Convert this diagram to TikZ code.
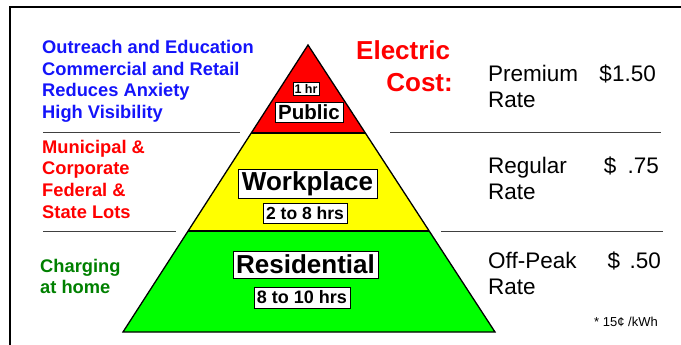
\documentclass[tikz,border=0pt]{standalone}
\usepackage{fontspec}
\setmainfont{Liberation Sans}
\usetikzlibrary{calc}
\definecolor{tblue}{RGB}{20,20,250}
\definecolor{tred}{RGB}{255,0,0}
\definecolor{tgreen}{RGB}{0,128,0}
\definecolor{fillred}{RGB}{255,0,0}
\definecolor{fillyellow}{RGB}{255,255,0}
\definecolor{fillgreen}{RGB}{0,255,0}
\begin{document}
\begin{tikzpicture}[x=1pt,y=-1pt,
  lefttxt/.style={anchor=base west,inner sep=0pt,font=\fontsize{18.3}{18.3}\selectfont\bfseries},
  ratetxt/.style={anchor=base west,inner sep=0pt,font=\fontsize{22.5}{22.5}\selectfont},
  amounttxt/.style={anchor=base east,inner sep=0pt,font=\fontsize{22.5}{22.5}\selectfont},
  costtxt/.style={inner sep=0pt,text=tred,font=\fontsize{26}{26}\selectfont\bfseries},
  tierbox/.style={draw=black,line width=0.8pt,fill=white,inner sep=0pt,align=center},
  sepline/.style={draw=black!75,line width=1pt},
  outline/.style={draw=black,line width=1.3pt,line join=miter}]
\useasboundingbox (0,0) rectangle (681,345);
% frame
\coordinate (fbl) at (10,345);
\coordinate (ftl) at (10,7);
\coordinate (ftr) at (681,7);
\draw[line width=2pt] (fbl) -- (ftl) -- (ftr);
% pyramid
\coordinate (apex) at (308,45);
\coordinate (bl) at (123,332);
\coordinate (br) at (495,332);
\coordinate (l1) at ($(apex)!0.3066!(bl)$);
\coordinate (r1) at ($(apex)!0.3066!(br)$);
\coordinate (l2) at ($(apex)!0.6481!(bl)$);
\coordinate (r2) at ($(apex)!0.6481!(br)$);
\fill[fillred] (apex) -- (r1) -- (l1) -- cycle;
\fill[fillyellow] (l1) -- (r1) -- (r2) -- (l2) -- cycle;
\fill[fillgreen] (l2) -- (r2) -- (br) -- (bl) -- cycle;
\draw[outline] (l1) -- (r1) (l2) -- (r2);
\draw[outline] (apex) -- (br) -- (bl) -- cycle;
% tier labels
\node[tierbox,minimum width=26pt,minimum height=13pt,font=\fontsize{12.5}{12.5}\selectfont\bfseries] (hr1) at (306,88.5) {1 hr};
\node[tierbox,minimum width=68pt,minimum height=20pt,font=\fontsize{20.5}{20.5}\selectfont\bfseries] (pub) at (309,112) {Public};
\node[tierbox,minimum width=139pt,minimum height=29pt,font=\fontsize{26}{26}\selectfont\bfseries] (work) at (307.5,183.5) {Workplace};
\node[tierbox,minimum width=84pt,minimum height=20pt,font=\fontsize{17.5}{17.5}\selectfont\bfseries] (hr28) at (305,213) {2 to 8 hrs};
\node[tierbox,minimum width=145pt,minimum height=27pt,font=\fontsize{26}{26}\selectfont\bfseries] (res) at (305.5,264.5) {Residential};
\node[tierbox,minimum width=96pt,minimum height=21pt,font=\fontsize{18}{18}\selectfont\bfseries] (hr810) at (302,297.5) {8 to 10 hrs};
% separator lines
\coordinate (s1a) at (43,133); \coordinate (s1b) at (240,133);
\coordinate (s2a) at (390,133); \coordinate (s2b) at (661,133);
\coordinate (s3a) at (43,231); \coordinate (s3b) at (176,231);
\coordinate (s4a) at (441,231); \coordinate (s4b) at (663,231);
\draw[sepline] (s1a) -- (s1b);
\draw[sepline] (s2a) -- (s2b);
\draw[sepline] (s3a) -- (s3b);
\draw[sepline] (s4a) -- (s4b);
% left texts
\node[lefttxt,text=tblue] (b1) at (42,54) {Outreach and Education};
\node[lefttxt,text=tblue] (b2) at (42,75.5) {Commercial and Retail};
\node[lefttxt,text=tblue] (b3) at (42,97) {Reduces Anxiety};
\node[lefttxt,text=tblue] (b4) at (42,118.4) {High Visibility};
\node[lefttxt,text=tred] (m1) at (42,153.3) {Municipal \&};
\node[lefttxt,text=tred] (m2) at (42,175) {Corporate};
\node[lefttxt,text=tred] (m3) at (42,196.7) {Federal \&};
\node[lefttxt,text=tred] (m4) at (42,218) {State Lots};
\node[lefttxt,text=tgreen] (g1) at (40,272) {Charging};
\node[lefttxt,text=tgreen] (g2) at (40,293) {at home};
% electric cost
\node[costtxt,anchor=base west] (el) at (356,60) {Electric};
\node[costtxt,anchor=base east] (co) at (453,91.5) {Cost:};
% rates
\node[ratetxt] (p1) at (488,81.7) {Premium};
\node[amounttxt] (p2) at (656,81.7) {\$1.50};
\node[ratetxt] (p3) at (488,107.3) {Rate};
\node[ratetxt] (q1) at (488,174) {Regular};
\node[amounttxt] (q2) at (659,174) {\$\hspace{0.5em}.75};
\node[ratetxt] (q3) at (488,200) {Rate};
\node[ratetxt] (o1) at (488,268.3) {Off-Peak};
\node[amounttxt] (o2) at (661,268.3) {\$\hspace{0.42em}.50};
\node[ratetxt] (o3) at (488,294) {Rate};
\node[anchor=base west,inner sep=0pt,font=\fontsize{13}{13}\selectfont] (fn) at (594,326.7) {* 15¢ /kWh};
\end{tikzpicture}
\end{document}
